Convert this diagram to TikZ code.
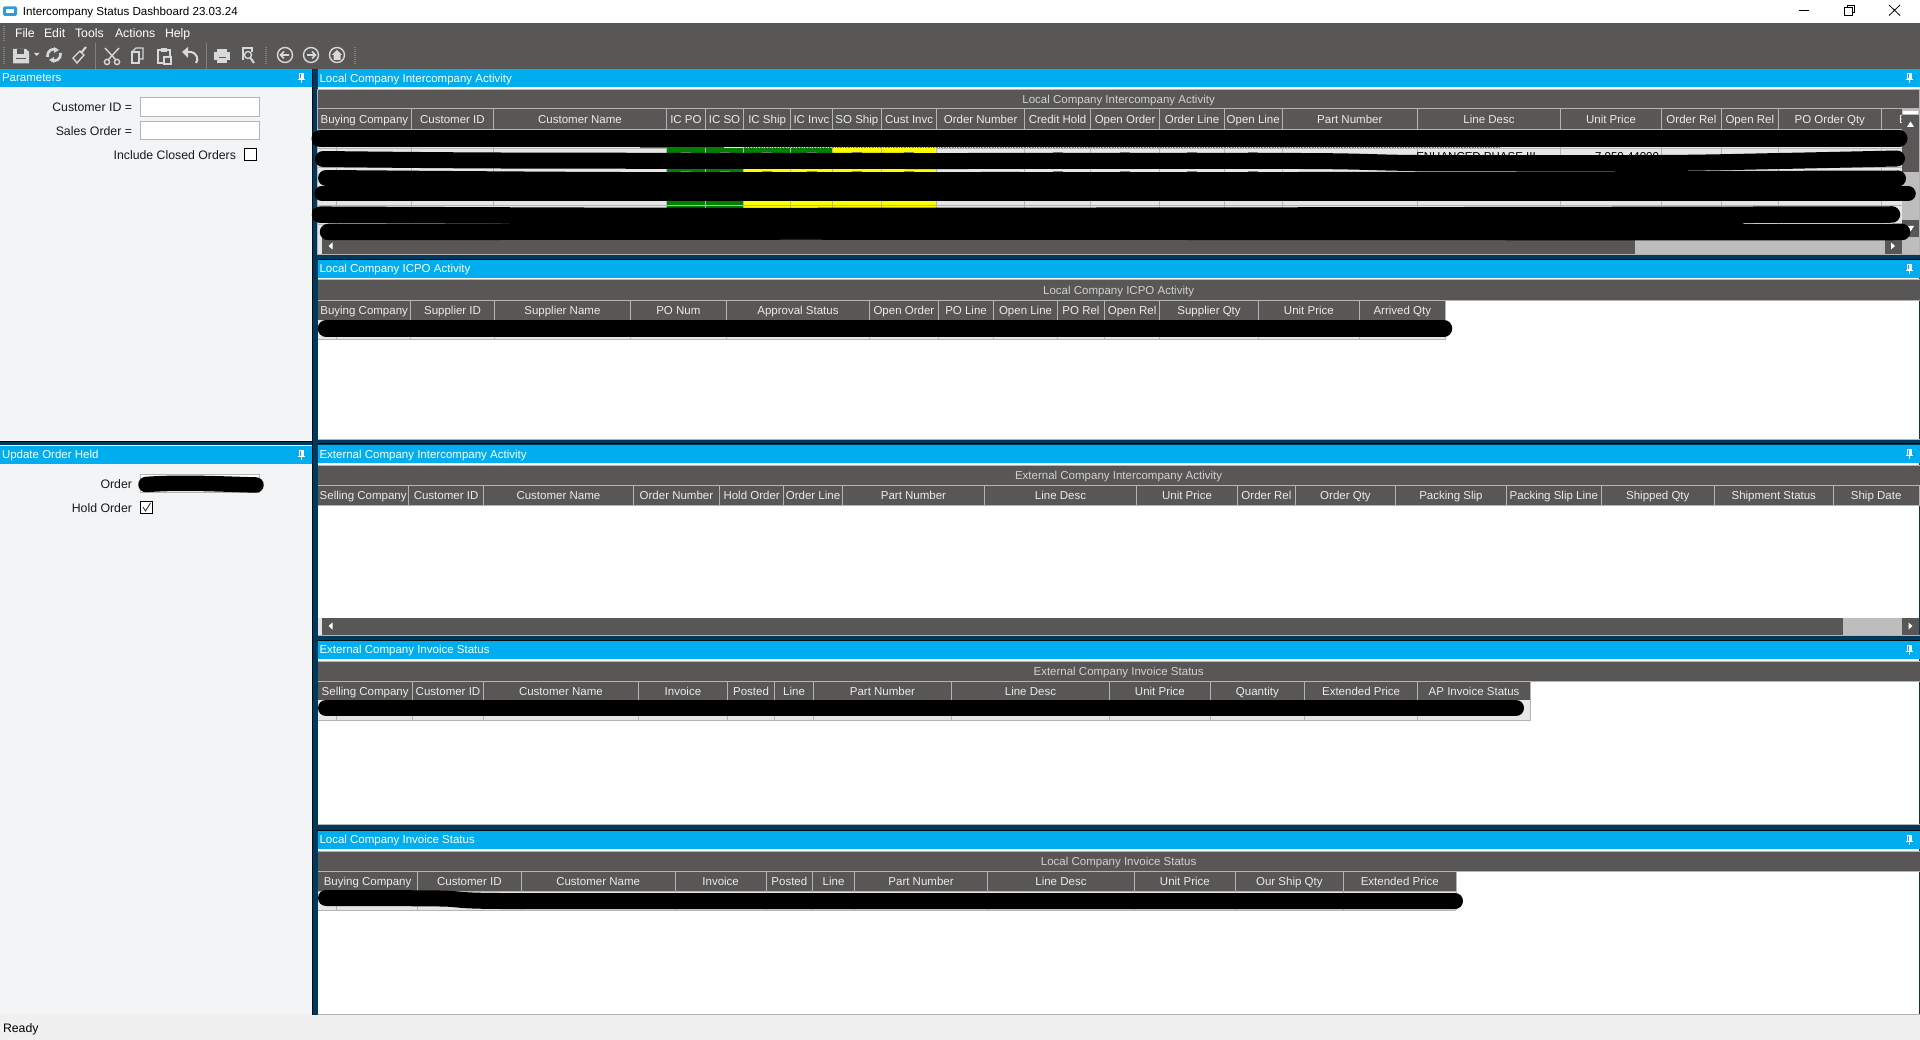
\documentclass[tikz,border=0pt]{standalone}
\usepackage{fontspec}
\setmainfont{Liberation Sans}
\definecolor{dk}{HTML}{595755}
\definecolor{bl}{HTML}{00ADEF}
\definecolor{nv}{HTML}{00395C}
\definecolor{pn}{HTML}{F3F4F6}
\definecolor{gl}{HTML}{B4B4B4}
\definecolor{rw}{HTML}{E6E6E6}
\definecolor{sb}{HTML}{BDBDBD}
\definecolor{ic}{HTML}{D8D8D8}
\definecolor{grn}{HTML}{008000}
\definecolor{yel}{HTML}{FFFF00}
\tikzset{
 txt/.style={font=\fontsize{11.5}{13}\selectfont,inner sep=0pt,outer sep=0pt},
 big/.style={font=\fontsize{12.3}{14}\selectfont,inner sep=0pt,outer sep=0pt},
 hdr/.style={txt,text=white!92!black,anchor=base},
 ttl/.style={txt,text=white!82!black,anchor=base},
 blu/.style={txt,text=white,anchor=base west},
 lab/.style={big,text=black!90,anchor=base east},
 grd/.style={draw=gl,line width=1pt},
 redact/.style={draw=black,line cap=round,line join=round},
 icon/.style={draw=ic,line width=1.4pt,fill=none},
 iconf/.style={fill=ic,draw=none},
 box/.style={draw=gl,line width=1pt,fill=white},
}
\newcommand{\pinicon}[2]{%
 \draw[white,line width=1pt] (#1-2,#2-4.5) rectangle (#1+2,#2+1);
 \draw[white,line width=1pt] (#1-3.5,#2+1.5) -- (#1+3.5,#2+1.5);
 \draw[white,line width=1pt] (#1,#2+1.5) -- (#1,#2+5);
 \fill[white] (#1,#2-4.5) rectangle (#1+2,#2+1);
}
\newcommand{\panelbar}[6][13]{% [text offset] x1 x2 y name text
 \fill[bl] (#2,#4) rectangle (#3,#4+18);
 \node[blu] (#5) at (#2+2,#4+#1) {#6};
}
\newcommand{\navcirc}[1]{\draw[icon] (#1,55) circle (7.5);}
\begin{document}
\begin{tikzpicture}[x=1pt,y=-1pt]
\useasboundingbox (0,0) rectangle (1920,1040);
% window
\fill[white] (0,0) rectangle (1920,23);
\fill[dk] (0,23) rectangle (1920,69);
\fill[nv] (0,69) rectangle (1920,1015);
\fill[black!75!nv] (312,69) rectangle (313,1015);
\fill[pn] (0,69) rectangle (312,441);
\fill[pn] (0,445) rectangle (312,1015);
\fill[black!80!nv] (0,441) rectangle (312,442);
\fill[black!80!nv] (317,259) rectangle (1920,260);
\fill[black!80!nv] (317,639.5) rectangle (1920,640.5);
\fill[black!80!nv] (317,443.5) rectangle (1920,444.5);
\fill[black!80!nv] (317,829.5) rectangle (1920,830.5);
\fill[white!94!black] (0,1015) rectangle (1920,1040);
% title bar
\fill[cyan!75!blue!85!white,rounded corners=1.5pt] (3,6.5) rectangle (17,16);
\fill[white] (6,9) rectangle (14,13);
\node[txt,font=\fontsize{11.6}{13}\selectfont,anchor=base west,text=black] (title) at (23,16) {Intercompany Status Dashboard 23.03.24};
\draw[black,line width=1pt] (1799,10.5) -- (1809,10.5);
\draw[black,line width=.8pt] (1844.5,7.5) rectangle (1852,15) (1847,7.5) -- (1847,5) -- (1854.5,5) -- (1854.5,12.5) -- (1852,12.5);
\draw[black,line width=.8pt] (1889,5) -- (1900,15.5) (1900,5) -- (1889,15.5);
% menu
\foreach \x/\t/\n in {15/File/mf,44/Edit/me,75/Tools/mt,115/Actions/ma,165/Help/mh}
 \node[big,anchor=base west,text=white] (\n) at (\x,38) {\t};
\foreach \y in {26,28,...,40}{\fill[gray] (3,\y) rectangle (5,\y+1);}
\foreach \y in {47,49,...,63}{\fill[gray] (3,\y) rectangle (5,\y+1);
 \fill[gray] (265,\y) rectangle (267,\y+1);
 \fill[gray] (354,\y) rectangle (356,\y+1);}
\draw[gray,line width=.8pt] (95.5,43) -- (95.5,69) (206,43) -- (206,69);
% toolbar icons
\fill[iconf] (13,49) -- (26,49) -- (29,52) -- (29,63.5) -- (13,63.5) -- cycle;
\fill[dk] (17,49.5) rectangle (24,54);
\fill[dk] (16,58) rectangle (26,59);
\fill[iconf] (34,53) -- (39.5,53) -- (36.7,56) -- cycle;
\draw[ic,line width=2.6pt] (47.5,57) .. controls (47,50) and (53,48) .. (56,50);
\draw[ic,line width=2.6pt] (60.5,53) .. controls (61,60) and (55,62) .. (52,60);
\fill[iconf] (54,47) -- (59,50) -- (54,53) -- cycle;
\fill[iconf] (54,57) -- (49,60) -- (54,63) -- cycle;
\draw[icon] (73,58) -- (80,51) -- (84,55) -- (77,63) -- cycle;
\draw[ic,line width=2pt] (81,53) -- (86,47);
\draw[icon] (105,48) -- (116,60) (119,48) -- (108,60);
\draw[icon] (107,62) circle (2.6) (117,62) circle (2.6);
\draw[icon] (132,52) -- (136,48) -- (143,48) -- (143,59) -- (139,59);
\draw[icon] (132,52) rectangle (139,63);
\draw[icon] (158,50) rectangle (170,63);
\fill[iconf] (161,48) rectangle (167,52);
\draw[icon,fill=dk] (164,57) rectangle (171,64);
\draw[ic,line width=2pt] (184,52) -- (190,52) .. controls (197,52) and (199,60) .. (196,63);
\fill[iconf] (182,52) -- (188,47) -- (188,58) -- cycle;
\fill[iconf] (217,49) rectangle (227,52);
\fill[iconf] (214,52) rectangle (230,60);
\fill[iconf] (217,57) rectangle (227,63);
\fill[dk] (218.5,57) rectangle (225.5,58.5);
\draw[icon] (243,60) -- (243,48) -- (252,48) -- (252,52);
\draw[icon] (248,55) circle (3.5);
\draw[ic,line width=2pt] (250.5,58) -- (254,63);
\navcirc{285} \navcirc{311} \navcirc{337}
\draw[ic,line width=1.6pt] (281,55) -- (289,55) (284,51.5) -- (280.5,55) -- (284,58.5);
\draw[ic,line width=1.6pt] (307,55) -- (315,55) (312,51.5) -- (315.5,55) -- (312,58.5);
\fill[iconf] (332,55) -- (337,50) -- (342,55) -- (340.5,55) -- (340.5,60) -- (333.5,60) -- (333.5,55) -- cycle;
% left panels
\panelbar{0}{312}{69}{ptitle}{Parameters}
\pinicon{301}{78}
\node[lab] (lcid) at (132,111.5) {Customer ID =};
\draw[box] (140.5,97.5) rectangle (259.5,116.5);
\node[lab] (lso) at (132,135.5) {Sales Order =};
\draw[box] (140.5,121.5) rectangle (259.5,139.5);
\node[lab] (lclosed) at (236,159.5) {Include Closed Orders};
\draw[black,line width=.8pt,fill=white] (244.5,148.5) rectangle (256.5,160);
\panelbar{0}{312}{445.5}{utitle}{Update Order Held}
\pinicon{301}{455}
\node[lab] (lorder) at (132,488.7) {Order};
\draw[box] (140.5,474.5) rectangle (259.5,492.5);
\draw[redact,line width=15.5pt] (146,484.5) .. controls (180,482) and (220,484) .. (256,485);
\node[lab] (lhold) at (132,512.7) {Hold Order};
\draw[black,line width=.8pt,fill=white] (140.5,501.5) rectangle (152.5,513.5);
\draw[black!80,line width=.9pt] (143,507) -- (145.5,511) -- (150.5,503);
% ---------- panel 1
\panelbar[13.5]{317.5}{1920}{69}{t1}{Local Company Intercompany Activity}
\pinicon{1909.4}{78}
\fill[white] (317.5,87) rectangle (1920,89);
\fill[dk] (317.5,89) rectangle (1920,254);
\draw[gl,line width=1pt] (317.5,89.5) -- (1919.5,89.5) -- (1919.5,254.5) -- (317.5,254.5) -- cycle;
\node[ttl] (t1c) at (1118.6,104) {Local Company Intercompany Activity};
\draw[grd] (317.5,109) -- (1920,109);
\fill[rw] (317.5,130) rectangle (1902,238);
\foreach \y in {148,167,186,205,224} \draw[draw=gl,line width=.8pt] (317.5,\y) -- (1902,\y);
\draw[draw=gl,line width=.8pt] (336.7,130) -- (336.7,238);
\draw[grd] (317.5,129.5) -- (1902,129.5);
% status colours
\fill[grn] (666.5,148) rectangle (832,153);
\fill[yel] (832,148) rectangle (936.7,153);
\fill[grn] (666.5,167.5) rectangle (743.7,172);
\fill[yel] (743.7,167.5) rectangle (936.7,172);
\fill[grn] (666.5,201) rectangle (743.7,208);
\fill[yel] (743.7,201) rectangle (936.7,208);
\draw[gl,line width=.8pt] (666.5,205) -- (936.7,205);
\foreach \x/\w/\t [count=\i] in {
 317.5/411.4/Buying Company,411.4/493.5/Customer ID,493.5/666.5/Customer Name,666.5/705.3/IC PO,705.3/743.7/IC SO,743.7/790.6/IC Ship,790.6/832.2/IC Invc,832.2/881.6/SO Ship,881.6/936.7/Cust Invc,936.7/1024.5/Order Number,1024.5/1090.6/Credit Hold,1090.6/1159.6/Open Order,1159.6/1224.5/Order Line,1224.5/1282/Open Line,1282/1417.6/Part Number,1417.6/1560.4/Line Desc,1560.4/1661.6/Unit Price,1661.6/1721.2/Order Rel,1721.2/1778.4/Open Rel,1778.4/1881.2/PO Order Qty}{
 \node[hdr] (ta\i) at ({(\x+\w)/2},124) {\t};
 \draw[grd] (\w,109) -- (\w,238);
 \draw[gl,line width=.8pt] (\x,130) -- (\x,238);
}
\foreach \x in {686,724.5,767,811.5,857,909,1057.5,1125,1192,1253}{
 \fill[gray] (\x-5,152) rectangle (\x+5,153);
 \fill[gray] (\x-5,171) rectangle (\x+5,172);}
\draw[orange!80!black,line width=.6pt,densely dotted] (743.7,130.2) -- (1902,130.2);
\draw[orange!80!black,line width=.6pt,densely dotted] (743.7,147.7) -- (1500,147.7);
\draw[blue!60!cyan,line width=.6pt,densely dotted] (1500,146.7) -- (1902,146.7);
\draw[red,line width=.6pt] (666.5,147.2) -- (724,147.2);
\draw[blue!60!cyan,line width=.6pt] (640,147.2) -- (666.5,147.2);
\node[txt,anchor=base,text=black] (frag1) at (1476,160.7) {ENHANCED PHASE III};
\node[txt,anchor=base,text=black] (frag2) at (1627,160.7) {7,050.44000};
\node[hdr,anchor=base west] (tlast) at (1899,124) {E};
% right scrollbar
\fill[sb] (1902,109.5) rectangle (1919,238);
\fill[white] (1902.5,111) rectangle (1918,114);
\fill[dk] (1902,115) rectangle (1919,172);
\fill[dk] (1902,220) rectangle (1919,237);
\fill[white] (1907,127) -- (1914,127) -- (1910.5,121.5) -- cycle;
\fill[white] (1907,226) -- (1914,226) -- (1910.5,231.5) -- cycle;
% bottom scrollbar
\fill[white!90!black] (318,238) rectangle (322.4,254);
\fill[dk] (322.4,238) rectangle (1635,254);
\fill[sb] (1635,238) rectangle (1885,254);
\fill[dk] (1885,238) rectangle (1902,254);
\fill[sb] (1902,238) rectangle (1919,254);
\fill[white] (332.5,242.5) -- (332.5,249.5) -- (328.5,246) -- cycle;
\fill[white] (1891,242.5) -- (1891,249.5) -- (1895,246) -- cycle;
% redaction strokes
\draw[redact,line width=17pt] (320,138.5) -- (1899,138.5);
\draw[redact,line width=16pt] plot[smooth] coordinates {(323,159) (500,160.5) (900,161) (1300,161) (1420,163) (1660,163) (1780,161) (1897,158.5)};
\draw[redact,line width=16pt] plot[smooth] coordinates {(326,178) (620,180) (1000,180) (1300,180) (1898,178.5)};
\draw[redact,line width=15.5pt] (322,193.7) -- (1908,193.7);
\draw[redact,line width=16.5pt] plot[smooth] coordinates {(320,214.7) (700,216) (1300,215.5) (1892,214.5)};
\draw[redact,line width=16.5pt] plot[smooth] coordinates {(328,232) (800,231.5) (1500,232) (1902,232)};
\draw[redact,line width=8pt] (800,222) -- (1740,222);
% ---------- panel 2
\panelbar{317.5}{1920}{260}{t2}{Local Company ICPO Activity}
\pinicon{1909.4}{269}
\fill[white] (317.5,278) rectangle (1919,440);
\fill[dk] (317.5,280) rectangle (1920,300);
\draw[gl,line width=1pt] (317.5,280) -- (1920,280);
\draw[gl,line width=1pt] (317.5,439.5) -- (1920,439.5);
\node[ttl] (t2c) at (1118.6,295) {Local Company ICPO Activity};
\fill[dk] (317.5,300) rectangle (1445.3,320);
\fill[rw] (317.5,320) rectangle (1445.3,340);
\draw[grd] (317.5,300.5) -- (1920,300.5);
\draw[grd] (317.5,340) -- (1445.3,340);
\draw[gl,line width=.8pt] (336.8,320) -- (336.8,340);
\foreach \x/\w/\t [count=\i] in {317.7/410.6/Buying Company,410.6/494.5/Supplier ID,494.5/630.3/Supplier Name,630.3/726.4/PO Num,726.4/869.5/Approval Status,869.5/938.3/Open Order,938.3/993.8/PO Line,993.8/1057.3/Open Line,1057.3/1104.7/PO Rel,1104.7/1159.5/Open Rel,1159.5/1258.6/Supplier Qty,1258.6/1359.2/Unit Price,1359.2/1445.3/Arrived Qty}{
 \node[hdr] (tb\i) at ({(\x+\w)/2},315) {\t};
 \draw[grd] (\w,300) -- (\w,340);
}
\draw[redact,line width=16.5pt] (326,328.5) -- (1444,328.5);
% ---------- panel 3
\panelbar{317.5}{1920}{445}{t3}{External Company Intercompany Activity}
\pinicon{1909.4}{454}
\fill[white] (317.5,463) rectangle (1919,636);
\fill[dk] (317.5,465) rectangle (1920,485);
\draw[gl,line width=1pt] (317.5,465) -- (1920,465);
\node[ttl] (t3c) at (1118.6,479.5) {External Company Intercompany Activity};
\fill[dk] (317.5,485) rectangle (1919,505);
\draw[grd] (317.5,485.2) -- (1920,485.2);
\draw[grd] (317.5,505.2) -- (1920,505.2);
\foreach \x/\w/\t [count=\i] in {317.7/408.7/Selling Company,408.7/483.4/Customer ID,483.4/633.4/Customer Name,633.4/719.5/Order Number,719.5/783.8/Hold Order,783.8/842.3/Order Line,842.3/984.6/Part Number,984.6/1136.5/Line Desc,1136.5/1237.5/Unit Price,1237.5/1295.3/Order Rel,1295.3/1395.6/Order Qty,1395.6/1506.3/Packing Slip,1506.3/1601.3/Packing Slip Line,1601.3/1714.3/Shipped Qty,1714.3/1833.3/Shipment Status,1833.3/1919/Ship Date}{
 \node[hdr] (tc\i) at ({(\x+\w)/2},499.5) {\t};
 \draw[grd] (\w,485) -- (\w,505);
}
\fill[white!90!black] (318,617.7) rectangle (322.4,635);
\fill[dk] (322.4,617.7) rectangle (1843,635);
\fill[sb] (1843,617.7) rectangle (1902,635);
\fill[dk] (1902,617.7) rectangle (1919,635);
\fill[white] (332.5,622.5) -- (332.5,629.5) -- (328.5,626) -- cycle;
\fill[white] (1908.5,622.5) -- (1908.5,629.5) -- (1912.5,626) -- cycle;
\draw[gl,line width=1pt] (317.5,635.5) -- (1920,635.5);
% ---------- panel 4
\panelbar[12]{317.5}{1920}{641}{t4}{External Company Invoice Status}
\pinicon{1909.4}{650}
\fill[white] (317.5,659) rectangle (1919,825);
\fill[dk] (317.5,661.5) rectangle (1920,681);
\draw[gl,line width=1pt] (317.5,661.5) -- (1920,661.5);
\node[ttl] (t4c) at (1118.6,675.5) {External Company Invoice Status};
\fill[dk] (317.5,681) rectangle (1530.5,700);
\fill[rw] (317.5,700) rectangle (1530.5,720);
\draw[grd] (317.5,681.3) -- (1920,681.3);
\draw[grd] (317.5,720) -- (1530.5,720);
\draw[gl,line width=.8pt] (336.8,700) -- (336.8,720);
\foreach \x/\w/\t [count=\i] in {317.7/412.6/Selling Company,412.6/483.4/Customer ID,483.4/638.4/Customer Name,638.4/727.5/Invoice,727.5/774.6/Posted,774.6/813.6/Line,813.6/951.3/Part Number,951.3/1109.6/Line Desc,1109.6/1210.2/Unit Price,1210.2/1304.5/Quantity,1304.5/1417.7/Extended Price,1417.7/1530.5/AP Invoice Status}{
 \node[hdr] (td\i) at ({(\x+\w)/2},695) {\t};
 \draw[grd] (\w,681) -- (\w,720);
}
\draw[redact,line width=16pt] (326,708) -- (1516,708);
\draw[gl,line width=1pt] (317.5,824.7) -- (1920,824.7);
% ---------- panel 5
\panelbar[12]{317.5}{1920}{831}{t5}{Local Company Invoice Status}
\pinicon{1909.4}{840}
\fill[white] (317.5,849) rectangle (1919,1015);
\fill[dk] (317.5,851) rectangle (1920,871);
\draw[gl,line width=1pt] (317.5,851) -- (1920,851);
\node[ttl] (t5c) at (1118.6,865) {Local Company Invoice Status};
\fill[dk] (317.5,871) rectangle (1456.4,891);
\fill[rw] (317.5,891) rectangle (1456.4,910);
\draw[grd] (317.5,871.3) -- (1920,871.3);
\draw[grd] (317.5,891) -- (1456.4,891);
\draw[grd] (317.5,910) -- (1456.4,910);
\draw[gl,line width=.8pt] (336.8,891) -- (336.8,910);
\foreach \x/\w/\t [count=\i] in {317.7/417.5/Buying Company,417.5/521.2/Customer ID,521.2/675.1/Customer Name,675.1/766.2/Invoice,766.2/812.5/Posted,812.5/854.6/Line,854.6/987.5/Part Number,987.5/1134.4/Line Desc,1134.4/1235.4/Unit Price,1235.4/1343.2/Our Ship Qty,1343.2/1456.4/Extended Price}{
 \node[hdr] (te\i) at ({(\x+\w)/2},885) {\t};
 \draw[grd] (\w,871) -- (\w,910);
}
\draw[redact,line width=16pt] plot[smooth] coordinates {(326,898) (440,898.5) (500,901) (800,901) (1455,901)};
\draw[gl,line width=1pt] (317.5,1014.7) -- (1920,1014.7);
% status bar
\node[big,anchor=base west,text=black] (status) at (3,1032.5) {Ready};
\end{tikzpicture}
\end{document}
